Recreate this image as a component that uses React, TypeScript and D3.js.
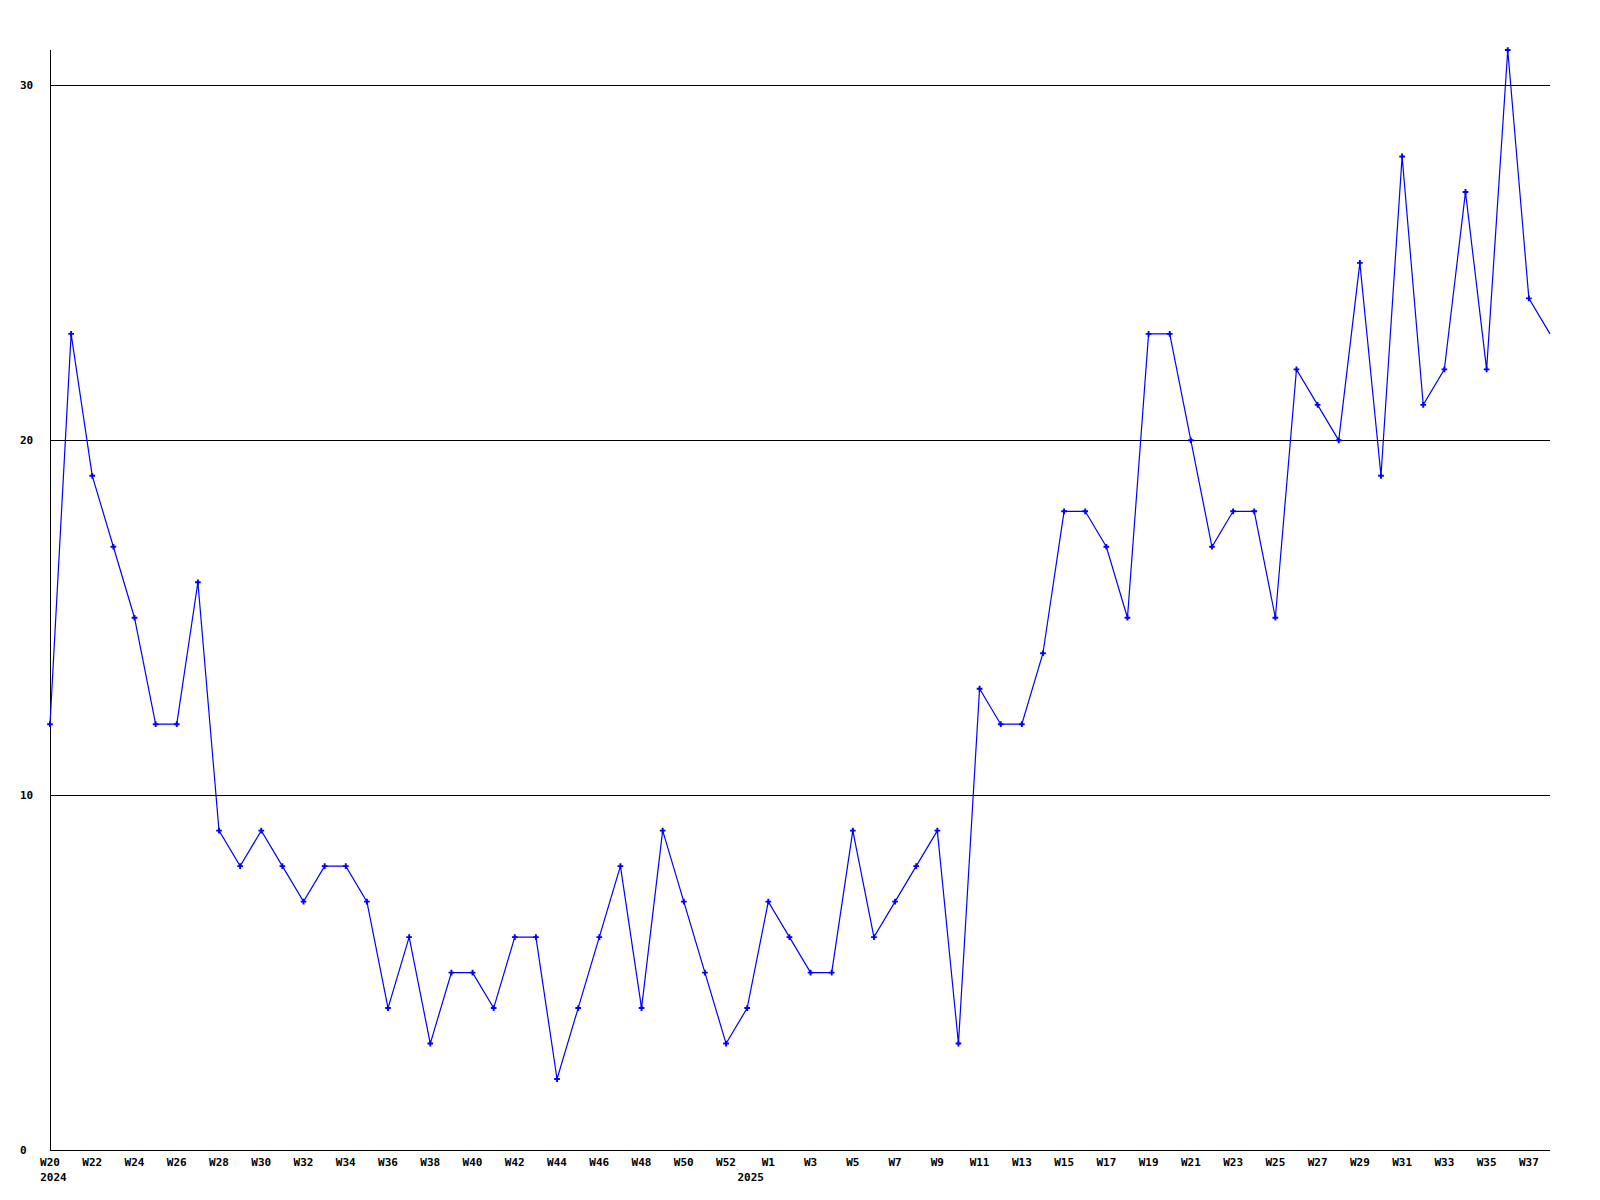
import React from "react";
import * as d3 from "d3";

// weeks: 2024 W20..W53, then 2025 W1..W38
const weeks2024 = d3.range(20, 54).map((w) => "W" + w);
const weeks2025 = d3.range(1, 39).map((w) => "W" + w);
const categories = [...weeks2024, ...weeks2025];

const values2024 = [12, 23, 19, 17, 15, 12, 12, 16, 9, 8, 9, 8, 7, 8, 8, 7, 4, 6, 3, 5, 5, 4, 6, 6, 2, 4, 6, 8, 4, 9, 7, 5, 3, 4];
const values2025 = [7, 6, 5, 5, 9, 6, 7, 8, 9, 3, 13, 12, 12, 14, 18, 18, 17, 15, 23, 23, 20, 17, 18, 18, 15, 22, 21, 20, 25, 19, 28, 21, 22, 27, 22, 31, 24, 23];
const values = [...values2024, ...values2025];

const yTicks = [0, 10, 20, 30];
const gridLines = [10, 20, 30];
// year label sits under the first week of that year
const yearLabels = [
  { index: 0, label: "2024" },
  { index: 33, label: "2025" },
];

const W = 1600;
const H = 1200;
const left = 50, right = 1550, top = 50, bottom = 1150;
const font = "'DejaVu Sans Mono', monospace";

export default function App() {
  const x = d3.scaleLinear().domain([0, categories.length - 1]).range([left, right]);
  const y = d3.scaleLinear().domain([0, d3.max(values) as number]).range([bottom, top]);

  const line = d3.line<number>()
    .x((d, i) => x(i))
    .y((d) => y(d));

  const marker = d3.symbol().type(d3.symbolCross).size(18)() as string;

  return (
    <svg width={W} height={H} style={{ position: "absolute", left: 0, top: 0, background: "#fff" }}>
      <g shapeRendering="crispEdges">
        {gridLines.map((t) => (
          <line key={t} x1={left} x2={right} y1={Math.round(y(t)) + 0.5} y2={Math.round(y(t)) + 0.5} stroke="#000" />
        ))}
        <line x1={left + 0.5} x2={left + 0.5} y1={top} y2={bottom} stroke="#000" />
        <line x1={left} x2={right} y1={bottom + 0.5} y2={bottom + 0.5} stroke="#000" />
      </g>

      <path d={line(values) || ""} fill="none" stroke="#0000ff" strokeWidth={1.2} />
      {values.slice(0, -1).map((v, i) => (
        <path key={i} d={marker} transform={`translate(${x(i)},${y(v)})`} fill="#0000ff" />
      ))}

      <g fontFamily={font} fontWeight="bold" fontSize={11} fill="#000">
        {yTicks.map((t) => (
          <text key={t} x={20} y={y(t)} dy="0.35em">{t}</text>
        ))}
        {categories.map((c, i) =>
          i % 2 === 0 ? (
            <text key={c + i} x={x(i)} y={bottom + 16} textAnchor="middle">{c}</text>
          ) : null
        )}
        {yearLabels.map((d) => (
          <text key={d.label} x={x(d.index) + 3.5} y={bottom + 31} textAnchor="middle">{d.label}</text>
        ))}
      </g>
    </svg>
  );
}
